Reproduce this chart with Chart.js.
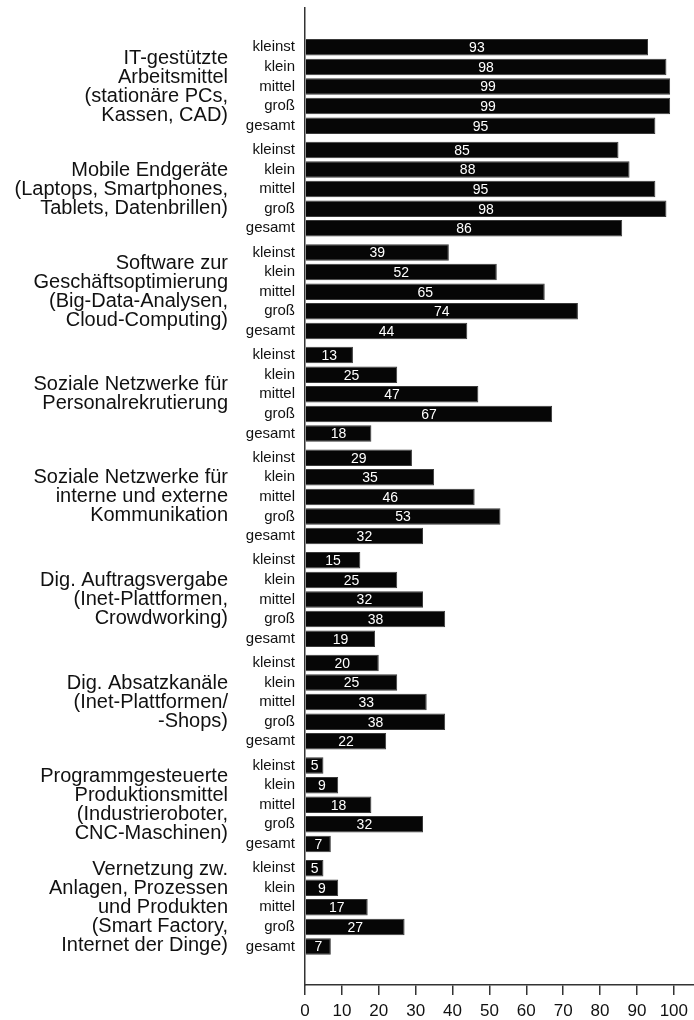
<!DOCTYPE html>
<html>
<head>
<meta charset="utf-8">
<script src="https://cdn.jsdelivr.net/npm/chart.js@4.4.0/dist/chart.umd.min.js"></script>
<style>
  body { margin: 0; background: #fff; }
  #wrap { width: 694px; height: 1020px; position: relative; }
</style>
</head>
<body>
<div id="wrap"><canvas id="chart"></canvas></div>
<script>
const groupLabels = [
  ['IT-gestützte', 'Arbeitsmittel', '(stationäre PCs,', 'Kassen, CAD)'],
  ['Mobile Endgeräte', '(Laptops, Smartphones,', 'Tablets, Datenbrillen)'],
  ['Software zur', 'Geschäftsoptimierung', '(Big-Data-Analysen,', 'Cloud-Computing)'],
  ['Soziale Netzwerke für', 'Personalrekrutierung'],
  ['Soziale Netzwerke für', 'interne und externe', 'Kommunikation'],
  ['Dig. Auftragsvergabe', '(Inet-Plattformen,', 'Crowdworking)'],
  ['Dig. Absatzkanäle', '(Inet-Plattformen/', '-Shops)'],
  ['Programmgesteuerte', 'Produktionsmittel', '(Industrieroboter,', 'CNC-Maschinen)'],
  ['Vernetzung zw.', 'Anlagen, Prozessen', 'und Produkten', '(Smart Factory,', 'Internet der Dinge)']
];
const sizeLabels = ['kleinst', 'klein', 'mittel', 'groß', 'gesamt'];
const kleinst = [93, 85, 39, 13, 29, 15, 20, 5, 5];
const klein   = [98, 88, 52, 25, 35, 25, 25, 9, 9];
const mittel  = [99, 95, 65, 47, 46, 32, 33, 18, 17];
const gross   = [99, 98, 74, 67, 53, 38, 38, 32, 27];
const gesamt  = [95, 86, 44, 18, 32, 19, 22, 7, 7];
const xTicks = [0, 10, 20, 30, 40, 50, 60, 70, 80, 90, 100];

const FONT = '"Liberation Sans", Arial, sans-serif';
const series = [kleinst, klein, mittel, gross, gesamt];

// group names, sub labels left of the axis, white values inside the bars
const barText = {
  id: 'barText',
  afterDatasetsDraw(chart) {
    const ctx = chart.ctx;
    const left = chart.chartArea.left;
    const yScale = chart.scales.y;
    ctx.save();
    ctx.textBaseline = 'middle';

    ctx.font = '20px ' + FONT;
    ctx.fillStyle = '#111';
    ctx.textAlign = 'right';
    groupLabels.forEach((lines, g) => {
      const cy = yScale.getPixelForValue(g);
      const lh = 19;
      const y0 = cy - (lines.length - 1) * lh / 2;
      lines.forEach((t, k) => ctx.fillText(t, left - 77, y0 + k * lh));
    });

    chart.data.datasets.forEach((ds, d) => {
      chart.getDatasetMeta(d).data.forEach((bar, i) => {
        ctx.font = '15px ' + FONT;
        ctx.fillStyle = '#111';
        ctx.textAlign = 'right';
        ctx.fillText(ds.label, left - 10, bar.y);
        ctx.font = '14px ' + FONT;
        ctx.fillStyle = '#fff';
        ctx.textAlign = 'center';
        ctx.fillText(String(ds.data[i].x), (bar.base + bar.x) / 2, bar.y + 1);
      });
    });
    ctx.restore();
  }
};

new Chart(document.getElementById('chart'), {
  type: 'bar',
  data: {
    datasets: series.map((vals, s) => ({
      label: sizeLabels[s],
      data: vals.map((v, i) => ({ x: v, y: i })),
      backgroundColor: '#060606',
      borderColor: '#3a3a3a',
      borderWidth: 1,
      categoryPercentage: 0.955,
      barPercentage: 0.842
    }))
  },
  options: {
    indexAxis: 'y',
    responsive: true,
    maintainAspectRatio: false,
    animation: false,
    layout: { padding: { top: 8, right: 0, bottom: 0, left: 0 } },
    plugins: { legend: { display: false }, tooltip: { enabled: false } },
    scales: {
      x: {
        type: 'linear',
        min: 0,
        max: 105.42,
        afterBuildTicks: s => { s.ticks = xTicks.map(v => ({ value: v })); },
        afterFit: s => { s.height = 35; },
        grid: { display: true, drawOnChartArea: false, drawTicks: true, tickLength: 10, color: '#333', lineWidth: 1.5 },
        border: { display: true, color: '#333', width: 1.5 },
        ticks: { color: '#111', padding: 6, font: { size: 17, family: FONT } }
      },
      y: {
        type: 'linear',
        reverse: true,
        offset: false,
        min: -0.765,
        max: 8.757,
        afterBuildTicks: s => { s.ticks = groupLabels.map((g, i) => ({ value: i })); },
        afterFit: s => { s.width = 305; },
        grid: { display: false, drawTicks: false, offset: false },
        border: { display: true, color: '#333', width: 1.5 },
        ticks: { display: false }
      }
    }
  },
  plugins: [barText]
});
</script>
</body>
</html>
